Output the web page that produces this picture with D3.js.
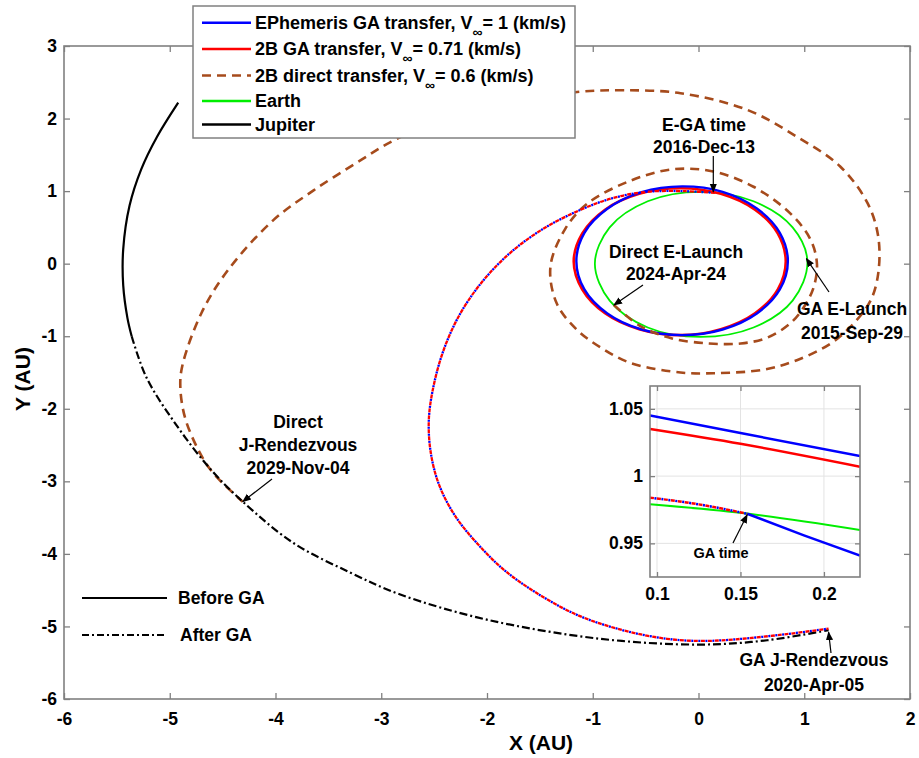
<!DOCTYPE html>
<html><head><meta charset="utf-8">
<script src="https://cdn.jsdelivr.net/npm/d3@7"></script>
<style>
body{margin:0;background:#fff;}
svg text{font-family:"Liberation Sans",Arial,Helvetica,sans-serif;font-weight:bold;fill:#000;}
</style></head><body>
<svg id="chart" width="919" height="758"></svg>
<script>
// ---------------- data (AU) ----------------
const xTicks = [-6,-5,-4,-3,-2,-1,0,1,2];
const yTicks = [-6,-5,-4,-3,-2,-1,0,1,2,3];
const insetXTicks = [0.1,0.15,0.2];
const insetYTicks = [0.95,1,1.05];

const earthOrbit = [[1.03,0.02],[0.89,0.5],[0.52,0.86],[0.02,0.99],[-0.48,0.86],[-0.84,0.5],[-0.98,0],[-0.84,-0.51],[-0.48,-0.88],[0.02,-1.01],[0.52,-0.88],[0.89,-0.51]];
const ephemInitialOrbit = [[0.845,0.035],[0.769,0.425],[0.552,0.76],[0.228,0.99],[-0.155,1.065],[-0.538,0.985],[-0.862,0.756],[-1.079,0.425],[-1.155,0.035],[-1.079,-0.355],[-0.862,-0.686],[-0.538,-0.907],[-0.155,-0.985],[0.228,-0.907],[0.552,-0.686],[0.769,-0.355]];
const twoBodyInitialOrbit = [[0.825,0.03],[0.749,0.417],[0.534,0.744],[0.211,0.963],[-0.17,1.04],[-0.561,0.963],[-0.884,0.744],[-1.099,0.417],[-1.18,0.03],[-1.099,-0.357],[-0.884,-0.684],[-0.561,-0.903],[-0.17,-0.985],[0.211,-0.903],[0.534,-0.684],[0.749,-0.357]];
const gaTransfer = [[0.155,0.975],[-0.15,1.0],[-0.49,0.99],[-0.82,0.90],[-1.15,0.72],[-1.48,0.47],[-1.78,0.15],[-2.04,-0.24],[-2.25,-0.68],[-2.40,-1.15],[-2.50,-1.65],[-2.55,-2.15],[-2.53,-2.62],[-2.45,-3.06],[-2.30,-3.48],[-2.09,-3.86],[-1.84,-4.22],[-1.53,-4.54],[-1.15,-4.84],[-0.72,-5.05],[-0.30,-5.17],[0.02,-5.2],[0.33,-5.18],[0.81,-5.11],[1.23,-5.03]];
const directTransfer = [[-0.80,-0.57],[-0.55,-0.86],[-0.25,-1.03],[0.1,-1.1],[0.40,-1.1],[0.65,-1.02],[0.87,-0.82],[1.0,-0.59],[1.09,-0.32],[1.12,0.0],[1.06,0.33],[0.87,0.69],[0.52,1.06],[0.14,1.27],[-0.25,1.30],[-0.65,1.14],[-1.05,0.83],[-1.26,0.48],[-1.40,-0.04],[-1.34,-0.55],[-1.15,-0.91],[-0.92,-1.16],[-0.64,-1.37],[-0.17,-1.50],[0.14,-1.51],[0.62,-1.46],[0.93,-1.33],[1.25,-1.10],[1.47,-0.82],[1.63,-0.50],[1.70,-0.13],[1.70,0.37],[1.60,0.83],[1.34,1.34],[0.93,1.75],[0.46,2.12],[-0.17,2.35],[-0.70,2.39],[-1.12,2.37],[-1.7,2.24],[-2.35,2.0],[-2.88,1.70],[-3.19,1.43],[-3.64,1.01],[-4.02,0.60],[-4.45,-0.09],[-4.70,-0.68],[-4.88,-1.40],[-4.90,-1.70],[-4.85,-2.15],[-4.68,-2.70],[-4.55,-2.95],[-4.31,-3.28]];
const jupiterBeforeGA = [[-4.92,2.22],[-5.12,1.75],[-5.27,1.30],[-5.38,0.80],[-5.44,0.20],[-5.44,-0.30],[-5.40,-0.75],[-5.36,-1.0]];
const jupiterAfterGA = [[-5.36,-1.0],[-5.22,-1.57],[-4.93,-2.24],[-4.61,-2.84],[-4.31,-3.28],[-3.83,-3.85],[-3.29,-4.26],[-2.82,-4.56],[-1.99,-4.91],[-0.93,-5.17],[0.02,-5.25],[0.65,-5.19],[1.23,-5.05]];

// inset (zoom near the Earth gravity assist)
const insetEphem = [[0.0958,1.045],[0.15,1.032],[0.2216,1.015]];
const insetTwoBody = [[0.0958,1.035],[0.15,1.024],[0.2216,1.007]];
const insetEarth = [[0.0958,0.979],[0.155,0.972],[0.2216,0.960]];
const insetTransferBefore = [[0.0958,0.984],[0.125,0.979],[0.154,0.972]];
const insetEphemAfter = [[0.154,0.972],[0.188,0.956],[0.2216,0.941]];

const legendLabels = [
  ["EPhemeris GA transfer, V","∞","= 1 (km/s)"],
  ["2B GA transfer, V","∞","= 0.71 (km/s)"],
  ["2B direct transfer, V","∞","= 0.6 (km/s)"],
  ["Earth"],
  ["Jupiter"]
];
const styleLabels = ["Before GA","After GA"];

// ---------------- drawing ----------------
const svg = d3.select('#chart');
const AX = '#808080';
const BROWN = '#a64b1c';
const x = d3.scaleLinear().domain([-6,2]).range([64,910]);
const y = d3.scaleLinear().domain([-6,3]).range([699,46]);

svg.append('rect').attr('width',919).attr('height',758).attr('fill','#fff');

const defs = svg.append('defs');
defs.append('clipPath').attr('id','plotClip').append('rect')
  .attr('x',64).attr('y',46).attr('width',846).attr('height',653);
defs.append('marker').attr('id','arrow').attr('viewBox','0 0 10 10').attr('refX',9).attr('refY',5)
  .attr('markerWidth',9).attr('markerHeight',9).attr('markerUnits','userSpaceOnUse').attr('orient','auto')
  .append('path').attr('d','M0,1 L10,5 L0,9 Z').attr('fill','#000');

function styleAxis(g, showLabels, fs){
  g.select('.domain').remove();
  g.selectAll('.tick line').attr('stroke',AX).attr('stroke-width',1.3);
  g.selectAll('.tick text').attr('font-size',fs).attr('fill','#000')
    .style('font-family','"Liberation Sans",Arial,sans-serif').style('font-weight','bold');
  if(!showLabels) g.selectAll('.tick text').remove();
}
const fmt = d => String(d);
styleAxis(svg.append('g').attr('transform',`translate(0,${y(-6)})`)
  .call(d3.axisBottom(x).tickValues(xTicks).tickSize(-6).tickPadding(14).tickFormat(fmt)), true, 17.5);
styleAxis(svg.append('g').attr('transform',`translate(0,${y(3)})`)
  .call(d3.axisTop(x).tickValues(xTicks).tickSize(-6)), false, 17);
styleAxis(svg.append('g').attr('transform',`translate(${x(-6)},0)`)
  .call(d3.axisLeft(y).tickValues(yTicks).tickSize(-6).tickPadding(7).tickFormat(fmt)), true, 17.5);
styleAxis(svg.append('g').attr('transform',`translate(${x(2)},0)`)
  .call(d3.axisRight(y).tickValues(yTicks).tickSize(-6)), false, 17);
svg.append('rect').attr('x',x(-6)).attr('y',y(3)).attr('width',x(2)-x(-6)).attr('height',y(-6)-y(3))
  .attr('fill','none').attr('stroke',AX).attr('stroke-width',1.6);

svg.append('text').attr('x',541).attr('y',750).attr('text-anchor','middle').attr('font-size',21).text('X (AU)');
svg.append('text').attr('transform','translate(30,379) rotate(-90)').attr('text-anchor','middle').attr('font-size',21).text('Y (AU)');

const line = d3.line().x(d=>x(d[0])).y(d=>y(d[1])).curve(d3.curveCatmullRom.alpha(0.5));
const closed = d3.line().x(d=>x(d[0])).y(d=>y(d[1])).curve(d3.curveCatmullRomClosed.alpha(0.5));
const plot = svg.append('g').attr('clip-path','url(#plotClip)');

plot.append('path').attr('d',closed(earthOrbit)).attr('fill','none').attr('stroke','#00ee00').attr('stroke-width',1.8);
plot.append('path').attr('d',closed(twoBodyInitialOrbit)).attr('fill','none').attr('stroke','#ff0000').attr('stroke-width',2.6);
plot.append('path').attr('d',closed(ephemInitialOrbit)).attr('fill','none').attr('stroke','#0000ff').attr('stroke-width',2.4);
plot.append('path').attr('d',line(directTransfer)).attr('fill','none').attr('stroke',BROWN).attr('stroke-width',2.6).attr('stroke-dasharray','9,6');
plot.append('path').attr('d',line(jupiterBeforeGA)).attr('fill','none').attr('stroke','#000').attr('stroke-width',2.2);
plot.append('path').attr('d',line(jupiterAfterGA)).attr('fill','none').attr('stroke','#000').attr('stroke-width',2.2).attr('stroke-dasharray','8,3,2,3');
plot.append('path').attr('d',line(gaTransfer)).attr('fill','none').attr('stroke','#ff0000').attr('stroke-width',2.3).attr('stroke-dasharray','4,3');
plot.append('path').attr('d',line(gaTransfer)).attr('fill','none').attr('stroke','#0000ff').attr('stroke-width',2.3).attr('stroke-dasharray','2,5').attr('stroke-dashoffset',-4.5);

// ---------------- annotations ----------------
function label(lines, cx, cys, fs){
  lines.forEach((t,i)=>svg.append('text').attr('x',cx).attr('y',cys[i]).attr('dy','0.36em')
    .attr('text-anchor','middle').attr('font-size',fs).text(t));
}
function arrow(x1,y1,x2,y2){
  svg.append('line').attr('x1',x1).attr('y1',y1).attr('x2',x2).attr('y2',y2)
    .attr('stroke','#000').attr('stroke-width',1.2).attr('marker-end','url(#arrow)');
}
label(['E-GA time','2016-Dec-13'], 704, [125,147], 17.5);
arrow(x(0.14), 156, x(0.14), y(0.99));
label(['Direct E-Launch','2024-Apr-24'], 676, [252,274], 17.5);
arrow(643, 285, x(-0.80), y(-0.57));
label(['GA E-Launch','2015-Sep-29'], 852, [309,333], 17.5);
arrow(829, 292, x(1.02), y(0.07));
label(['Direct','J-Rendezvous','2029-Nov-04'], 298, [422,445,468], 17.5);
arrow(272, 479, x(-4.31), y(-3.28));
label(['GA J-Rendezvous','2020-Apr-05'], 814, [660,685], 17.5);
arrow(831, 653, x(1.23), y(-5.05)+2);

// before/after GA style key
svg.append('line').attr('x1',82).attr('x2',167).attr('y1',598).attr('y2',598).attr('stroke','#000').attr('stroke-width',1.8);
svg.append('line').attr('x1',82).attr('x2',167).attr('y1',635).attr('y2',635).attr('stroke','#000').attr('stroke-width',1.8).attr('stroke-dasharray','7,3,2,3');
svg.append('text').attr('x',178).attr('y',598).attr('dy','0.36em').attr('font-size',17.5).text(styleLabels[0]);
svg.append('text').attr('x',180).attr('y',635).attr('dy','0.36em').attr('font-size',17.5).text(styleLabels[1]);

// ---------------- inset ----------------
const ix = d3.scaleLinear().domain([0.0958,0.2216]).range([650,860]);
const iy = d3.scaleLinear().domain([0.925,1.067]).range([577,386]);
const ig = svg.append('g');
defs.append('clipPath').attr('id','insetClip').append('rect').attr('x',650).attr('y',386).attr('width',210).attr('height',191);
ig.append('rect').attr('x',650).attr('y',386).attr('width',210).attr('height',191).attr('fill','#fff');
insetXTicks.forEach(v=>ig.append('line').attr('x1',ix(v)).attr('x2',ix(v)).attr('y1',386).attr('y2',577).attr('stroke','#e3e3e3').attr('stroke-width',1));
insetYTicks.forEach(v=>ig.append('line').attr('x1',650).attr('x2',860).attr('y1',iy(v)).attr('y2',iy(v)).attr('stroke','#e3e3e3').attr('stroke-width',1));
const iline = d3.line().x(d=>ix(d[0])).y(d=>iy(d[1])).curve(d3.curveMonotoneX);
const ip = ig.append('g').attr('clip-path','url(#insetClip)');
ip.append('path').attr('d',iline(insetEarth)).attr('fill','none').attr('stroke','#00ee00').attr('stroke-width',2);
ip.append('path').attr('d',iline(insetTwoBody)).attr('fill','none').attr('stroke','#ff0000').attr('stroke-width',2.5);
ip.append('path').attr('d',iline(insetEphem)).attr('fill','none').attr('stroke','#0000ff').attr('stroke-width',2.5);
ip.append('path').attr('d',iline(insetEphemAfter)).attr('fill','none').attr('stroke','#0000ff').attr('stroke-width',2.5);
ip.append('path').attr('d',iline(insetTransferBefore)).attr('fill','none').attr('stroke','#ff0000').attr('stroke-width',2.5).attr('stroke-dasharray','4,3');
ip.append('path').attr('d',iline(insetTransferBefore)).attr('fill','none').attr('stroke','#0000ff').attr('stroke-width',2.5).attr('stroke-dasharray','2,5').attr('stroke-dashoffset',-4.5);
styleAxis(ig.append('g').attr('transform','translate(0,577)')
  .call(d3.axisBottom(ix).tickValues(insetXTicks).tickSize(-5).tickPadding(11).tickFormat(fmt)), true, 17.5);
styleAxis(ig.append('g').attr('transform','translate(650,0)')
  .call(d3.axisLeft(iy).tickValues(insetYTicks).tickSize(-5).tickPadding(7).tickFormat(fmt)), true, 17.5);
styleAxis(ig.append('g').attr('transform','translate(0,386)')
  .call(d3.axisTop(ix).tickValues(insetXTicks).tickSize(-5)), false, 17);
styleAxis(ig.append('g').attr('transform','translate(860,0)')
  .call(d3.axisRight(iy).tickValues(insetYTicks).tickSize(-5)), false, 17);
ig.append('rect').attr('x',650).attr('y',386).attr('width',210).attr('height',191).attr('fill','none').attr('stroke',AX).attr('stroke-width',1.6);
svg.append('text').attr('x',721).attr('y',553).attr('dy','0.36em').attr('text-anchor','middle').attr('font-size',14.5).text('GA time');
arrow(733, 543, ix(0.154), iy(0.972)+1);

// ---------------- legend ----------------
const lg = svg.append('g');
lg.append('rect').attr('x',193).attr('y',6).attr('width',382).attr('height',132).attr('fill','#fff').attr('stroke',AX).attr('stroke-width',1.5);
const rowY = [22.7,49,75.5,101,124.5];
const legStyles = [
  {stroke:'#0000ff',dash:null},
  {stroke:'#ff0000',dash:null},
  {stroke:BROWN,dash:'9,6'},
  {stroke:'#00ee00',dash:null},
  {stroke:'#000',dash:null}
];
legendLabels.forEach((lab,i)=>{
  const s = legStyles[i];
  const l = lg.append('line').attr('x1',202).attr('x2',251).attr('y1',rowY[i]).attr('y2',rowY[i])
    .attr('stroke',s.stroke).attr('stroke-width',2.4);
  if(s.dash) l.attr('stroke-dasharray',s.dash);
  const t = lg.append('text').attr('x',255).attr('y',rowY[i]).attr('dy','0.36em').attr('font-size',18);
  t.append('tspan').text(lab[0]);
  if(lab.length>1){
    t.append('tspan').attr('dy',8).attr('font-size',14).text(lab[1]);
    t.append('tspan').attr('dy',-8).text(lab[2]);
  }
});
</script>
</body></html>
